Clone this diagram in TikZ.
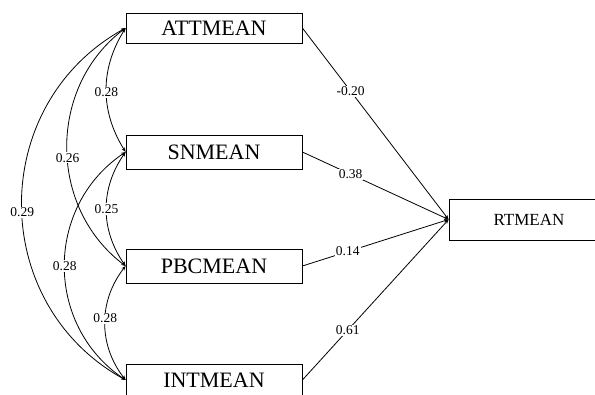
\documentclass[tikz,border=0pt]{standalone}
\usepackage{fontspec}
\setmainfont{Liberation Serif}
\usetikzlibrary{arrows.meta}
\begin{document}
\begin{tikzpicture}[x=1pt,y=-1pt,
  >={Stealth[length=4.5pt,width=3.5pt]},
  var/.style={draw, line width=0.8pt, minimum width=176pt, inner sep=0pt, font=\fontsize{22}{24}\selectfont},
  outvar/.style={draw, line width=0.8pt, minimum width=160pt, minimum height=41pt, inner sep=0pt, font=\fontsize{17}{20}\selectfont},
  conn/.style={line width=0.8pt},
  lab/.style={fill=white, inner sep=1pt, font=\fontsize{13.5}{15}\selectfont}]
\useasboundingbox (0,0) rectangle (595,394);
\node[var, minimum height=30pt] (att) at (214,28) {ATTMEAN};
\node[var, minimum height=34pt] (sn) at (214,152) {SNMEAN};
\node[var, minimum height=34pt] (pbc) at (214,266) {PBCMEAN};
\node[var, minimum height=32pt] (int) at (214,380) {INTMEAN};
\node[outvar] (rt) at (529,219.5) {RTMEAN};
% regressions
\draw[conn,->] (att.east) -- node[lab, pos=0.33] {-0.20} (rt.west);
\draw[conn,->] (sn.east) -- node[lab, pos=0.33] {0.38} (rt.west);
\draw[conn,->] (pbc.east) -- node[lab, pos=0.31] {0.14} (rt.west);
\draw[conn,->] (int.east) -- node[lab, pos=0.31] {0.61} (rt.west);
% covariances
\draw[conn,<->] (att.west) to[bend right=32] node[lab, pos=0.52] {0.28} (sn.west);
\draw[conn,<->] (att.west) to[bend right=53, looseness=1.05] node[lab, pos=0.54] {0.26} (pbc.west);
\draw[conn,<->] (att.west) to[bend right=61, looseness=1.15] node[lab, pos=0.52] {0.29} (int.west);
\draw[conn,<->] (sn.west) to[bend right=35] node[lab] {0.25} (pbc.west);
\draw[conn,<->] (sn.west) to[bend right=56, looseness=1.1] node[lab] {0.28} (int.west);
\draw[conn,<->] (pbc.west) to[bend right=38] node[lab, pos=0.46] {0.28} (int.west);
\end{tikzpicture}
\end{document}
